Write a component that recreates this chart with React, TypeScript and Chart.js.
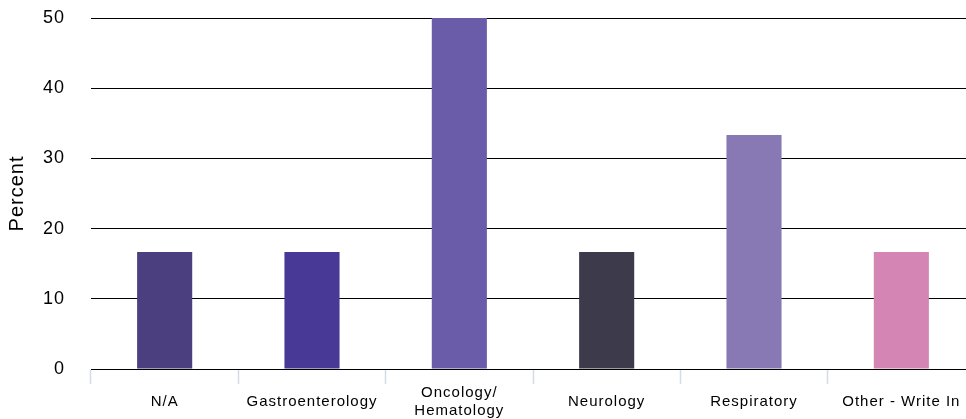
import React, { useEffect, useRef } from "react";
import { Chart, registerables } from "chart.js";

Chart.register(...registerables);

const categories: (string | string[])[] = [
  "N/A",
  "Gastroenterology",
  ["Oncology/", "Hematology"],
  "Neurology",
  "Respiratory",
  "Other - Write In",
];
const percentValues = [16.67, 16.67, 50, 16.67, 33.33, 16.67];
const barColors = ["#4b3f7f", "#483996", "#6a5ca9", "#3d3a4b", "#8879b5", "#d585b4"];
const yTitle = "Percent";
const yMin = 0;
const yMax = 50;
const yStep = 10;

const FONT = "'Liberation Sans', Arial, sans-serif";

const spacingPlugin = {
  id: "spacing",
  beforeUpdate(chart: any) {
    chart.ctx.letterSpacing = "1px";
  },
  beforeDraw(chart: any) {
    chart.ctx.letterSpacing = "1px";
  },
};

export default function App() {
  const ref = useRef<HTMLCanvasElement>(null);
  useEffect(() => {
    if (!ref.current) return;
    const chart = new Chart(ref.current, {
      type: "bar",
      plugins: [spacingPlugin],
      data: {
        labels: categories,
        datasets: [
          {
            data: percentValues,
            backgroundColor: barColors,
            borderWidth: 0,
            categoryPercentage: 1,
            barPercentage: 0.374,
          },
        ],
      },
      options: {
        responsive: false,
        animation: false,
        layout: { padding: { top: 18, right: 0, left: 0, bottom: 0 } },
        plugins: { legend: { display: false }, tooltip: { enabled: false } },
        scales: {
          x: {
            offset: true,
            grid: {
              offset: true,
              drawOnChartArea: false,
              drawTicks: true,
              tickLength: 15,
              tickColor: "#d6dbe8",
              tickWidth: 1.5,
            },
            border: { display: true, color: "#000", width: 1 },
            ticks: {
              color: "#000",
              font: { family: FONT, size: 15 },
              padding: 9,
              maxRotation: 0,
              autoSkip: false,
              crossAlign: "center",
            },
            afterFit: (s: any) => {
              s.height = 50;
            },
          },
          y: {
            min: yMin,
            max: yMax,
            grid: { color: "#000", lineWidth: 1, drawTicks: false },
            border: { display: false },
            ticks: {
              stepSize: yStep,
              color: "#000",
              font: { family: FONT, size: 18 },
              padding: 26,
            },
            title: {
              display: true,
              text: yTitle,
              color: "#000",
              font: { family: FONT, size: 20 },
              padding: { top: 5, bottom: 0 },
            },
            afterFit: (s: any) => {
              s.width = 91;
              s.paddingTop = 0;
            },
          },
        },
      },
    });
    return () => chart.destroy();
  }, []);
  return (
    <div style={{ position: "fixed", top: 0, left: 0, width: 966, height: 419, overflow: "hidden", background: "#fff" }}>
      <canvas ref={ref} width={975} height={419} style={{ display: "block" }} />
    </div>
  );
}
